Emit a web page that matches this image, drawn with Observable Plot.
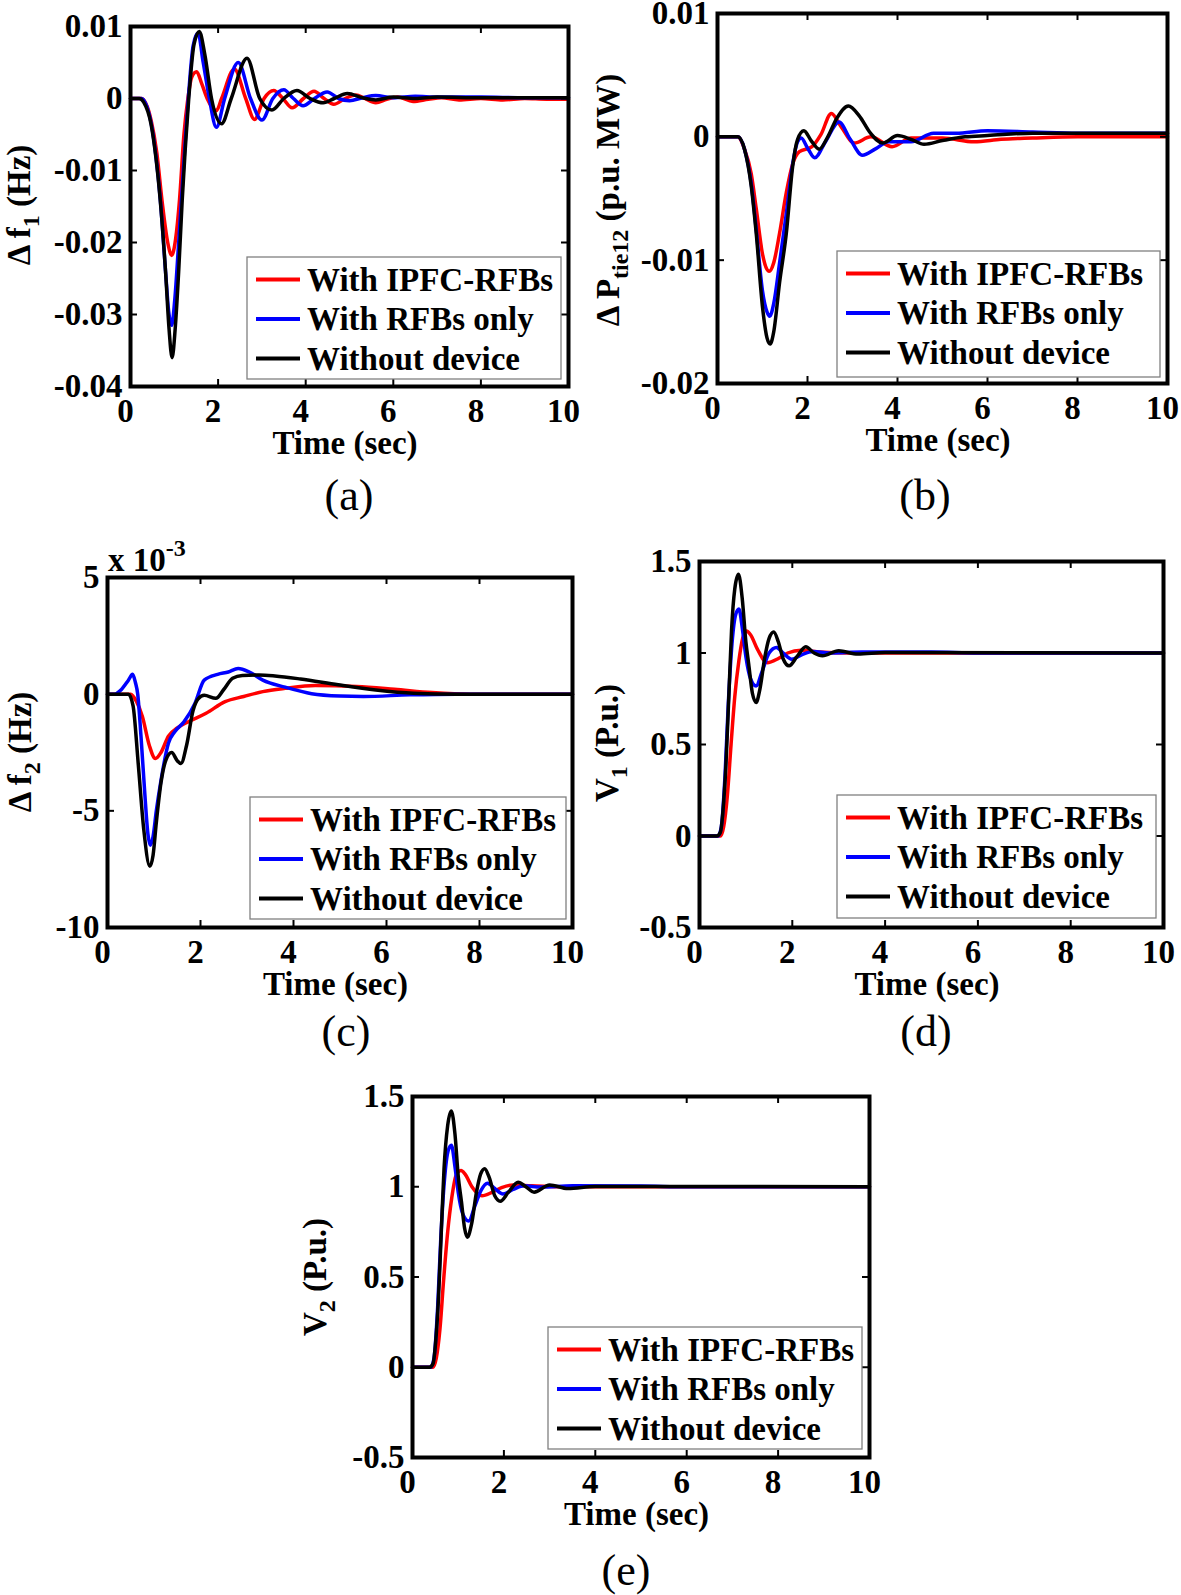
<!DOCTYPE html>
<html><head><meta charset="utf-8">
<script src="https://cdn.jsdelivr.net/npm/d3@7"></script>
<script src="https://cdn.jsdelivr.net/npm/@observablehq/plot@0.6"></script>
<style>
html,body{margin:0;padding:0;background:#fff;}
#fig{position:relative;width:1181px;height:1595px;overflow:hidden;background:#fff;}
</style></head><body><div id="fig"></div>
<script>
// ---------- shared ----------
const timeTicks = [0, 2, 4, 6, 8, 10];
const seriesNames = ["With IPFC-RFBs", "With RFBs only", "Without device"];
const seriesColors = ["#ff0000", "#0000ff", "#000000"];
const xTitle = "Time (sec)";

// ---------- (a) Δf1 (Hz) ----------
const a_yTicks = [-0.04, -0.03, -0.02, -0.01, 0, 0.01];
const a_ipfc = [[0,0],[0.25,0],[0.47,-0.003],[0.6,-0.0075],[0.72,-0.0142],[0.85,-0.02],[0.94,-0.0218],[1.03,-0.0195],[1.12,-0.014],[1.22,-0.005],[1.31,0],[1.4,0.003],[1.51,0.0037],[1.63,0.002],[1.75,0],[1.96,-0.0017],[2.08,0],[2.37,0.0041],[2.63,0],[2.83,-0.0029],[3.05,0],[3.27,0.0011],[3.48,0],[3.69,-0.0013],[3.95,0],[4.19,0.001],[4.42,0],[4.64,-0.0008],[4.9,0],[5.15,0.0005],[5.35,0],[5.6,-0.0006],[5.85,-0.0001],[6.1,0.0002],[6.45,-0.0004],[6.8,-0.0001],[7.1,0.0001],[7.5,-0.0002],[8,0],[8.5,-0.0002],[9,0],[9.5,-0.0001],[10,-0.0001]];
const a_rfb = [[0,0],[0.25,0],[0.47,-0.0034],[0.58,-0.008],[0.68,-0.014],[0.8,-0.024],[0.87,-0.0295],[0.94,-0.0315],[1.01,-0.028],[1.1,-0.02],[1.18,-0.0125],[1.25,-0.006],[1.32,0],[1.43,0.0073],[1.54,0.0091],[1.66,0.005],[1.8,0],[1.96,-0.004],[2.15,0],[2.46,0.005],[2.74,0],[3.0,-0.003],[3.25,0],[3.5,0.0012],[3.72,0],[3.94,-0.001],[4.2,0],[4.49,0.0009],[4.75,0],[5.0,-0.0003],[5.3,0.0001],[5.6,0.0004],[6.0,0.0001],[6.5,0.0003],[7,0.0002],[8,0.0002],[9,0.0001],[10,0.0001]];
const a_none = [[0,0],[0.2,0],[0.3,-0.0005],[0.47,-0.0036],[0.58,-0.0082],[0.68,-0.0142],[0.8,-0.024],[0.88,-0.032],[0.95,-0.036],[1.02,-0.032],[1.1,-0.024],[1.18,-0.0142],[1.25,-0.007],[1.33,0],[1.45,0.0075],[1.57,0.0093],[1.7,0.006],[1.85,0],[2.08,-0.0035],[2.3,0],[2.66,0.0056],[2.95,0],[3.23,-0.0016],[3.5,0],[3.8,0.0011],[4.1,0],[4.4,-0.0006],[4.65,0],[4.95,0.0007],[5.3,0.0001],[5.6,-0.0002],[6.0,0.0002],[6.5,0],[7,0.0002],[8,0.0001],[9,0.0001],[10,0.0001]];

// ---------- (b) ΔPtie12 (p.u. MW) ----------
const b_yTicks = [-0.02, -0.01, 0, 0.01];
const b_ipfc = [[0,0],[0.45,0],[0.6,-0.001],[0.75,-0.003],[0.86,-0.0058],[1.0,-0.0095],[1.08,-0.0106],[1.15,-0.0109],[1.25,-0.0102],[1.38,-0.0078],[1.53,-0.0045],[1.67,-0.0022],[1.82,-0.0012],[2.1,-0.0008],[2.3,0.0002],[2.53,0.0019],[2.75,0.0008],[3.04,-0.0005],[3.41,0],[3.88,-0.0008],[4.3,-0.0001],[5,-0.0001],[5.7,-0.0004],[6.3,-0.0002],[7,-0.0001],[8,0],[9,0],[10,0]];
const b_rfb = [[0,0],[0.45,0],[0.6,-0.001],[0.75,-0.0038],[0.86,-0.0075],[1.0,-0.0125],[1.1,-0.0142],[1.16,-0.01455],[1.25,-0.0135],[1.38,-0.0102],[1.53,-0.0062],[1.67,-0.0022],[1.78,-0.0004],[1.86,-0.0001],[2.0,-0.0009],[2.16,-0.0017],[2.4,-0.0004],[2.7,0.0012],[2.95,-0.0002],[3.22,-0.0015],[3.5,-0.001],[3.8,-0.0004],[4.3,-0.0004],[4.8,0.0003],[5.3,0.0003],[6,0.0005],[7,0.0004],[8,0.0003],[9,0.0003],[10,0.0003]];
const b_none = [[0,0],[0.45,0],[0.6,-0.001],[0.75,-0.004],[0.86,-0.0078],[1.0,-0.0138],[1.1,-0.0163],[1.17,-0.0168],[1.25,-0.0158],[1.38,-0.0118],[1.53,-0.0078],[1.67,-0.0024],[1.78,-0.0002],[1.92,0.0005],[2.08,-0.0003],[2.26,-0.001],[2.45,0],[2.65,0.0015],[2.91,0.0025],[3.15,0.0017],[3.4,0.0003],[3.67,-0.0005],[4.0,0.0001],[4.3,-0.0002],[4.59,-0.0006],[5.0,-0.0003],[5.5,0],[6,0.0001],[7,0.0003],[8,0.0003],[9,0.0003],[10,0.0003]];

// ---------- (c) Δf2 (Hz), values in units of 10^-3 ----------
const c_yTicks = [-10, -5, 0, 5];
const c_ipfc = [[0,0],[0.5,0],[0.62,-0.3],[0.75,-0.96],[0.9,-2.2],[1.03,-2.76],[1.15,-2.5],[1.31,-1.8],[1.5,-1.45],[1.72,-1.2],[2.12,-0.82],[2.53,-0.32],[2.93,-0.1],[3.34,0.11],[3.82,0.25],[4.47,0.37],[5.36,0.33],[6.17,0.21],[6.98,0.07],[7.8,0],[10,0]];
const c_rfb = [[0,0],[0.15,0],[0.3,0.2],[0.45,0.6],[0.54,0.85],[0.6,0.5],[0.65,0],[0.72,-1.8],[0.8,-4.2],[0.87,-6],[0.92,-6.47],[0.98,-6.1],[1.05,-5],[1.15,-3.7],[1.31,-2.1],[1.45,-1.6],[1.64,-1.2],[1.88,-0.4],[2.08,0.6],[2.37,0.85],[2.6,0.95],[2.81,1.1],[3.05,0.95],[3.34,0.6],[3.82,0.3],[4.39,0.02],[5,-0.08],[5.5,-0.1],[6.5,-0.03],[7.5,0],[10,0]];
const c_none = [[0,0],[0.45,0],[0.55,-0.5],[0.66,-2.96],[0.78,-5.8],[0.91,-7.37],[0.98,-6.9],[1.05,-5.5],[1.15,-3.8],[1.26,-2.8],[1.38,-2.5],[1.5,-2.85],[1.58,-2.97],[1.7,-2.2],[1.84,-0.7],[1.95,-0.2],[2.08,-0.05],[2.33,-0.18],[2.5,0.2],[2.69,0.68],[2.9,0.8],[3.26,0.82],[3.6,0.78],[4.15,0.65],[4.96,0.4],[5.77,0.18],[6.58,0.04],[7.5,0],[10,0]];

// ---------- (d) V1 (P.u.) ----------
const d_yTicks = [-0.5, 0, 0.5, 1, 1.5];
const d_ipfc = [[0,0],[0.45,0],[0.52,0.05],[0.6,0.22],[0.68,0.5],[0.76,0.76],[0.85,0.96],[0.93,1.08],[1.01,1.12],[1.1,1.1],[1.25,1.02],[1.46,0.947],[1.7,0.97],[1.9,1.0],[2.19,1.015],[2.6,1.005],[3.2,1.0],[10,1]];
const d_rfb = [[0,0],[0.4,0],[0.47,0.05],[0.55,0.33],[0.62,0.72],[0.7,1.05],[0.78,1.21],[0.85,1.24],[0.93,1.12],[1.0,0.98],[1.1,0.86],[1.22,0.82],[1.35,0.9],[1.5,1.0],[1.66,1.03],[1.8,1.0],[1.99,0.966],[2.2,0.99],[2.44,1.008],[2.8,1.0],[3.5,1.005],[5,1.005],[6,1.0],[10,1]];
const d_none = [[0,0],[0.37,0],[0.45,0.02],[0.5,0.12],[0.57,0.39],[0.63,0.75],[0.69,1.12],[0.76,1.35],[0.84,1.43],[0.92,1.3],[1.0,1.06],[1.06,0.94],[1.14,0.78],[1.22,0.73],[1.3,0.8],[1.41,0.98],[1.5,1.08],[1.6,1.115],[1.7,1.06],[1.8,0.97],[1.93,0.93],[2.1,0.98],[2.29,1.034],[2.47,1.0],[2.65,0.985],[3.0,1.012],[3.41,0.994],[4,1.003],[10,1]];

// ---------- (e) V2 (P.u.) ----------
const e_yTicks = [-0.5, 0, 0.5, 1, 1.5];
const e_ipfc = [[0,0],[0.45,0],[0.52,0.05],[0.6,0.21],[0.68,0.48],[0.77,0.75],[0.86,0.94],[0.95,1.06],[1.06,1.09],[1.15,1.07],[1.3,1.0],[1.52,0.95],[1.75,0.97],[1.95,0.995],[2.2,1.01],[2.6,1.005],[3.2,1.0],[10,1]];
const e_rfb = [[0,0],[0.4,0],[0.47,0.05],[0.55,0.33],[0.62,0.72],[0.7,1.04],[0.78,1.2],[0.85,1.23],[0.93,1.11],[1.0,0.97],[1.1,0.85],[1.23,0.81],[1.36,0.89],[1.5,0.98],[1.64,1.02],[1.8,0.99],[1.98,0.96],[2.2,0.985],[2.45,1.005],[2.8,0.998],[3.5,1.005],[5,1.004],[6,1.0],[10,1]];
const e_none = [[0,0],[0.37,0],[0.45,0.02],[0.5,0.12],[0.57,0.39],[0.63,0.75],[0.69,1.1],[0.77,1.34],[0.85,1.42],[0.93,1.29],[1.0,1.06],[1.07,0.92],[1.14,0.77],[1.2,0.72],[1.29,0.79],[1.4,0.97],[1.49,1.07],[1.58,1.1],[1.68,1.05],[1.8,0.95],[1.92,0.92],[2.1,0.97],[2.31,1.025],[2.48,1.0],[2.66,0.97],[3.0,1.01],[3.4,0.99],[4,1.002],[10,1]];

// ---------- layout ----------
const FONT = "'Liberation Serif','Times New Roman',Times,serif";
const fmt2 = d => d === 0 ? "0" : d.toFixed(2);
const fmtG = d => String(d);

const panels = [
  {frame:[130,568,26,386], yDomain:[-0.04,0.01], yTicks:a_yTicks, fmt:fmt2, series:[a_ipfc,a_rfb,a_none],
   legend:[247,257,561,379], ytitle:{x:30,y:205,parts:[["Δ f",""],["1","sub"],[" (Hz)",""]]}, cap:{x:349,y:510,t:"(a)"}},
  {frame:[717,1167,13,383], yDomain:[-0.02,0.01], yTicks:b_yTicks, fmt:fmt2, series:[b_ipfc,b_rfb,b_none],
   legend:[837,251,1160,377], ytitle:{x:619,y:200,parts:[["Δ P",""],["tie12","sub"],[" (p.u. MW)",""]]}, cap:{x:925,y:510,t:"(b)"}},
  {frame:[107,572,577,927], yDomain:[-10,5], yTicks:c_yTicks, fmt:fmtG, series:[c_ipfc,c_rfb,c_none],
   legend:[250,797,566,919], ytitle:{x:31,y:752,parts:[["Δ f",""],["2","sub"],[" (Hz)",""]]}, cap:{x:346,y:1046,t:"(c)"}},
  {frame:[699,1163,561,927], yDomain:[-0.5,1.5], yTicks:d_yTicks, fmt:fmtG, series:[d_ipfc,d_rfb,d_none],
   legend:[837,795,1156,918], ytitle:{x:618,y:743,parts:[["V",""],["1","sub"],[" (P.u.)",""]]}, cap:{x:926,y:1046,t:"(d)"}},
  {frame:[412,869,1096,1457], yDomain:[-0.5,1.5], yTicks:e_yTicks, fmt:fmtG, series:[e_ipfc,e_rfb,e_none],
   legend:[548,1327,862,1449], ytitle:{x:326,y:1277,parts:[["V",""],["2","sub"],[" (P.u.)",""]]}, cap:{x:626,y:1585,t:"(e)"}}
];

const fig = document.getElementById("fig");

function drawPanel(p) {
  const [L, R, T, B] = p.frame;
  const ox = L - 105, oy = Math.max(0, T - 20);
  const ml = L - ox, mt = T - oy, mr = 30, mb = 50;
  const W = R - ox + mr, H = B - oy + mb;
  const pw = R - L, ph = B - T;
  const tk = {stroke: "black", strokeWidth: 2};
  const svg = Plot.plot({
    width: W, height: H,
    marginLeft: ml, marginRight: mr, marginTop: mt, marginBottom: mb,
    x: {domain: [0, 10]},
    y: {domain: p.yDomain},
    style: {background: "transparent", overflow: "visible", fontFamily: FONT, fontSize: "33px", fontWeight: "bold", color: "black"},
    marks: [
      ...p.series.map((arr, i) => Plot.line(arr, {x: d => d[0], y: d => d[1], stroke: seriesColors[i], strokeWidth: 3.5, curve: "monotone-x"})),
      Plot.tickX(timeTicks, {x: d => d, insetTop: ph - 7, ...tk}),
      Plot.tickX(timeTicks, {x: d => d, insetBottom: ph - 7, ...tk}),
      Plot.tickY(p.yTicks, {y: d => d, insetRight: pw - 7, ...tk}),
      Plot.tickY(p.yTicks, {y: d => d, insetLeft: pw - 7, ...tk}),
      Plot.axisX({ticks: timeTicks, tickSize: 0, tickPadding: 12, dx: -5, tickFormat: d => String(d), label: null}),
      Plot.axisY({ticks: p.yTicks, tickSize: 0, tickPadding: 8, tickFormat: p.fmt, label: null}),
      Plot.frame({stroke: "black", strokeWidth: 4})
    ]
  });
  svg.style.position = "absolute";
  svg.style.left = ox + "px";
  svg.style.top = oy + "px";
  fig.appendChild(svg);
}
panels.forEach(drawPanel);

// ---------- text overlay: titles, legends, captions ----------
const ov = d3.create("svg")
  .attr("width", 1181).attr("height", 1595)
  .style("position", "absolute").style("left", "0px").style("top", "0px")
  .style("font-family", FONT).style("fill", "black");

function richText(sel, parts, size) {
  parts.forEach(([s, kind], i) => {
    const prev = i > 0 ? parts[i - 1][1] : "";
    let dy = 0;
    if (kind === "sub") dy = 9;
    else if (prev === "sub") dy = -9;
    sel.append("tspan").attr("dy", dy).attr("font-size", kind === "sub" ? 24 : size).text(s);
  });
}

panels.forEach(p => {
  const [L, R, T, B] = p.frame;
  // x title
  ov.append("text").attr("x", (L + R) / 2 - 4).attr("y", B + 68)
    .attr("text-anchor", "middle").attr("font-size", 33).attr("font-weight", "bold").text(xTitle);
  // y title
  const yt = ov.append("text")
    .attr("transform", `translate(${p.ytitle.x},${p.ytitle.y}) rotate(-90)`)
    .attr("text-anchor", "middle").attr("font-size", 33).attr("font-weight", "bold");
  richText(yt, p.ytitle.parts, 33);
  // legend
  const [lx0, ly0, lx1, ly1] = p.legend;
  ov.append("rect").attr("x", lx0).attr("y", ly0).attr("width", lx1 - lx0).attr("height", ly1 - ly0)
    .attr("fill", "white").attr("stroke", "#808080").attr("stroke-width", 1.3);
  const rowsY = [22.5, 62, 101.5];
  seriesNames.forEach((name, i) => {
    const y = ly0 + rowsY[i];
    ov.append("line").attr("x1", lx0 + 9).attr("x2", lx0 + 53).attr("y1", y).attr("y2", y)
      .attr("stroke", seriesColors[i]).attr("stroke-width", 4);
    ov.append("text").attr("x", lx0 + 60).attr("y", y + 11)
      .attr("font-size", 33).attr("font-weight", "bold").text(name);
  });
  // caption
  ov.append("text").attr("x", p.cap.x).attr("y", p.cap.y).attr("text-anchor", "middle")
    .attr("font-size", 44).attr("font-weight", "normal").text(p.cap.t);
});

// exponent label of panel (c)
const ex = ov.append("text").attr("x", 108).attr("y", 571).attr("font-size", 33).attr("font-weight", "bold");
ex.append("tspan").text("x 10");
ex.append("tspan").attr("dy", -15).attr("font-size", 24).text("-3");

fig.appendChild(ov.node());
</script>
</body></html>
